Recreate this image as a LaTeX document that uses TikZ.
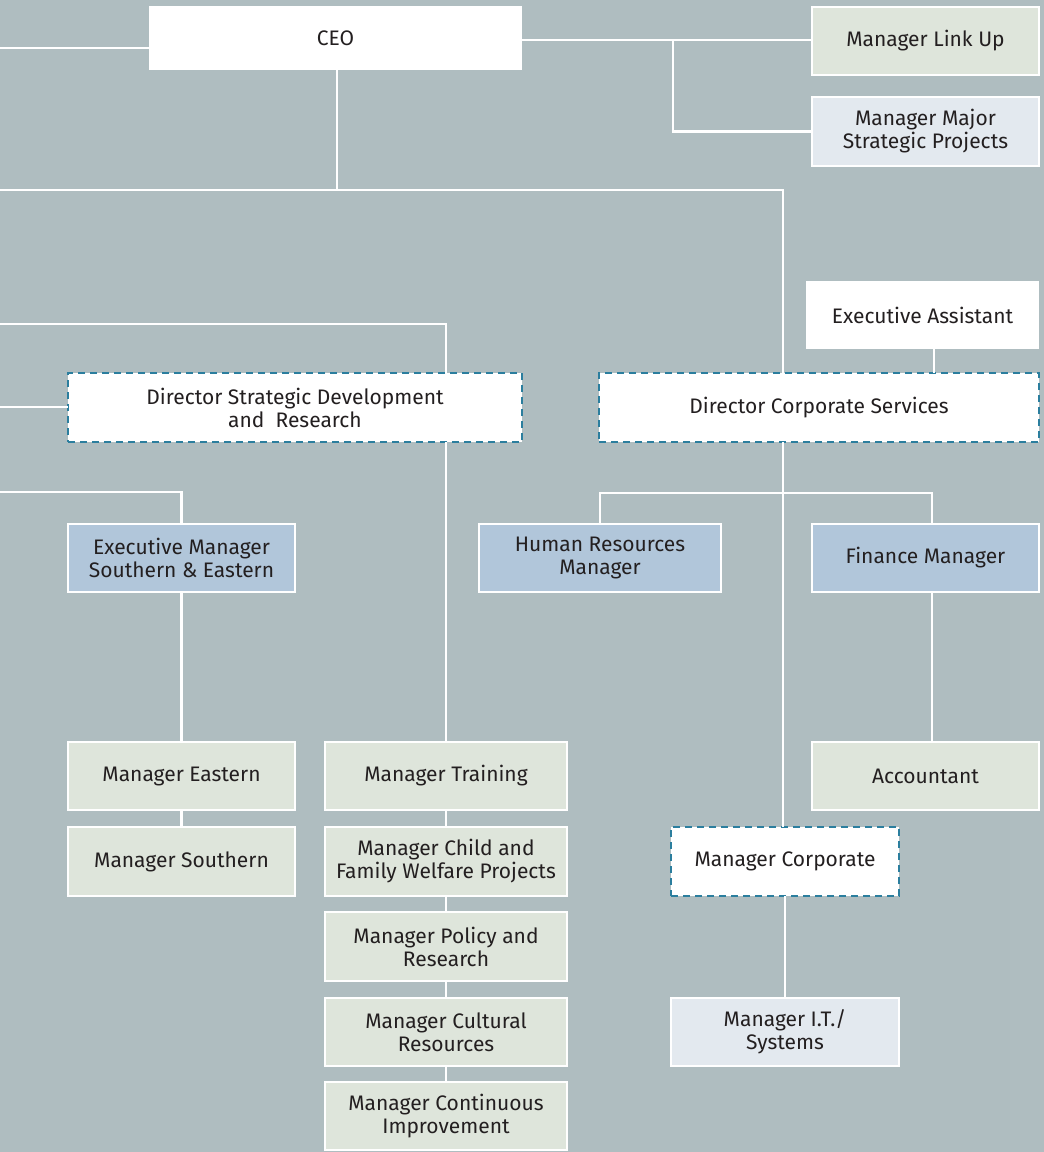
\documentclass[tikz,border=0pt]{standalone}
\usepackage{fontspec}
\setmainfont{Fira Sans}
\definecolor{bgc}{HTML}{AFBDC0}
\definecolor{lgreen}{HTML}{DEE5DB}
\definecolor{lblue}{HTML}{E3E9EF}
\definecolor{sblue}{HTML}{B1C6DA}
\definecolor{dashc}{HTML}{2B7E9E}
\definecolor{txt}{HTML}{231F20}
\begin{document}
\begin{tikzpicture}[x=1pt,y=-1pt,
  every node/.style={font=\fontsize{21}{23}\selectfont, text=txt, align=center, inner sep=0pt, outer sep=0pt},
  plainbox/.style={fill=white},
  greenbox/.style={fill=lgreen, draw=white, line width=1.2pt},
  palebox/.style={fill=lblue, draw=white, line width=1.2pt},
  bluebox/.style={fill=sblue, draw=white, line width=1.2pt},
  dashbox/.style={fill=white, draw=dashc, line width=1.8pt, dash pattern=on 7pt off 5pt},
  conn/.style={draw=white, line width=2.2pt}]
\useasboundingbox (0,0) rectangle (1044,1152);
\fill[bgc] (0,0) rectangle (1044,1152);

% boxes
\node[plainbox, anchor=north west, minimum width=373pt, minimum height=64pt] (ceo) at (149,6) {CEO};
\node[greenbox, anchor=north west, minimum width=227pt, minimum height=68pt] (linkup) at (812,7) {Manager Link Up};
\node[palebox, anchor=north west, minimum width=227pt, minimum height=69pt] (major) at (812,97) {Manager Major\\Strategic Projects};
\node[plainbox, anchor=north west, minimum width=233pt, minimum height=68pt] (ea) at (806,281) {Executive Assistant};
\node[dashbox, anchor=north west, minimum width=454pt, minimum height=69pt] (dsd) at (68,373) {Director Strategic Development\\and\ \ Research};
\node[dashbox, anchor=north west, minimum width=440pt, minimum height=69pt] (dcs) at (599,373) {Director Corporate Services};
\node[bluebox, anchor=north west, minimum width=227pt, minimum height=68pt] (exec) at (68,524) {Executive Manager\\Southern \& Eastern};
\node[bluebox, anchor=north west, minimum width=242pt, minimum height=68pt] (hr) at (479,524) {Human Resources\\Manager};
\node[bluebox, anchor=north west, minimum width=227pt, minimum height=68pt] (fin) at (812,524) {Finance Manager};
\node[greenbox, anchor=north west, minimum width=227pt, minimum height=68pt] (meast) at (68,742) {Manager Eastern};
\node[greenbox, anchor=north west, minimum width=227pt, minimum height=69pt] (msouth) at (68,827) {Manager Southern};
\node[greenbox, anchor=north west, minimum width=242pt, minimum height=68pt] (train) at (325,742) {Manager Training};
\node[greenbox, anchor=north west, minimum width=242pt, minimum height=69pt] (child) at (325,827) {Manager Child and\\Family Welfare Projects};
\node[greenbox, anchor=north west, minimum width=242pt, minimum height=69pt] (policy) at (325,912) {Manager Policy and\\Research};
\node[greenbox, anchor=north west, minimum width=242pt, minimum height=68pt] (cult) at (325,998) {Manager Cultural\\Resources};
\node[greenbox, anchor=north west, minimum width=242pt, minimum height=68pt] (cont) at (325,1082) {Manager Continuous\\Improvement};
\node[greenbox, anchor=north west, minimum width=227pt, minimum height=68pt] (acct) at (812,742) {Accountant};
\node[dashbox, anchor=north west, minimum width=228pt, minimum height=69pt] (mcorp) at (671,827) {Manager Corporate};
\node[palebox, anchor=north west, minimum width=228pt, minimum height=68pt] (mit) at (671,998) {Manager I.T./\\Systems};

% free ends and bend points
\coordinate (lceo) at (0,48);
\coordinate (b1) at (673,0);
\coordinate (lh1) at (0,190);
\coordinate (x783) at (783,0);
\coordinate (lh2) at (0,324);
\coordinate (ldsd) at (0,407);
\coordinate (lh3) at (0,492);
\coordinate (x934) at (934,0);
\coordinate (x932) at (932,0);
\coordinate (y493) at (0,493);

% connectors
\draw[conn] (lceo) -- (lceo -| ceo.west);
\draw[conn] (ceo.east |- 0,40) -- (linkup.west |- 0,40);
\draw[conn] (b1 |- 0,40) |- (major.west);
\draw[conn] (ceo.south -| 337,0) -- (337,190);
\draw[conn] (lh1) -| (dcs.north -| x783);
\draw[conn] (lh2) -| (dsd.north -| train.north);
\draw[conn] (dsd.south -| train.north) -- (train.north);
\draw[conn] (ldsd) -- (ldsd -| dsd.west);
\draw[conn] (lh3) -| (exec.north);
\draw[conn] (exec.south) -- (meast.north);
\draw[conn] (meast.south) -- (msouth.north);
\draw[conn] (train.south) -- (child.north);
\draw[conn] (child.south) -- (policy.north);
\draw[conn] (policy.south) -- (cult.north);
\draw[conn] (cult.south) -- (cont.north);
\draw[conn] (ea.south -| x934) -- (dcs.north -| x934);
\draw[conn] (dcs.south -| x783) -- (mcorp.north -| x783);
\draw[conn] (hr.north) |- (y493 -| x783) -| (fin.north -| x932);
\draw[conn] (fin.south -| x932) -- (acct.north -| x932);
\draw[conn] (mcorp.south) -- (mit.north);
\end{tikzpicture}
\end{document}
